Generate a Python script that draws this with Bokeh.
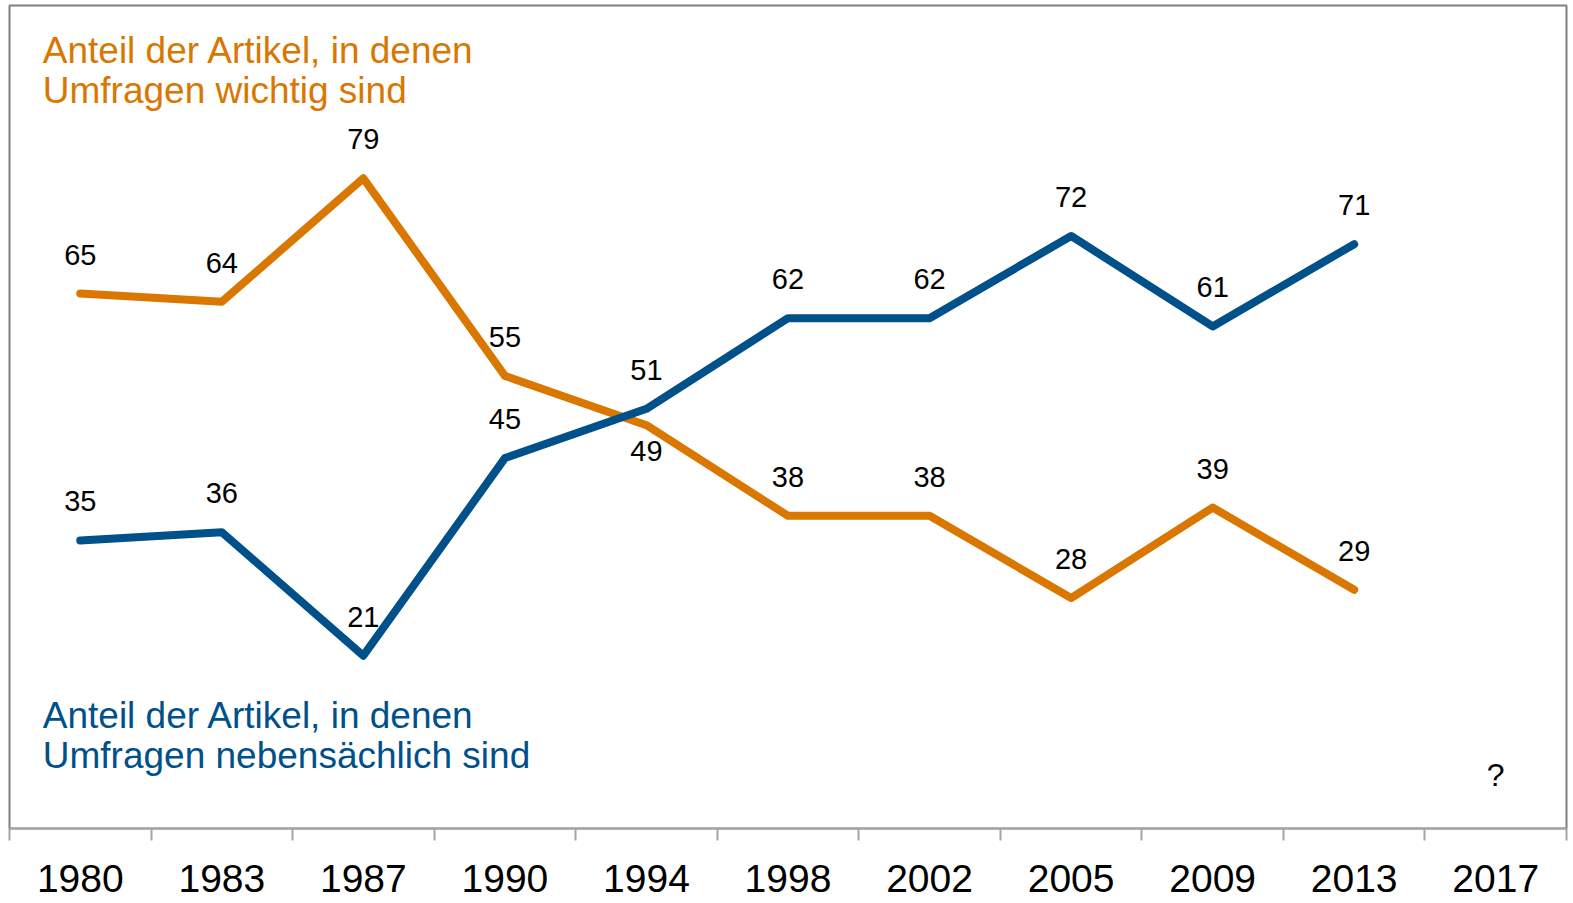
from bokeh.plotting import figure
from bokeh.models import Range1d, FixedTicker, ColumnDataSource
from bokeh.core.properties import value
from bokeh.embed import file_html
from bokeh.resources import INLINE

years = ["1980", "1983", "1987", "1990", "1994", "1998", "2002", "2005", "2009", "2013", "2017"]
important = [65, 64, 79, 55, 49, 38, 38, 28, 39, 29]      # orange
secondary = [35, 36, 21, 45, 51, 62, 62, 72, 61, 71]      # blue
important_label_below = [False, False, False, False, True, False, False, False, False, False]

title_important = ["Anteil der Artikel, in denen", "Umfragen wichtig sind"]
title_secondary = ["Anteil der Artikel, in denen", "Umfragen nebensächlich sind"]

ORANGE = "#D97700"
BLUE = "#00508A"
FONT = value("Liberation Sans")

idx = list(range(len(years)))

p = figure(frame_width=1557, frame_height=823,
           x_range=Range1d(-0.5, len(years) - 0.5), y_range=Range1d(0, 100),
           output_backend="svg", toolbar_location=None, y_axis_location=None,
           min_border_left=9, min_border_right=4, min_border_top=5, min_border_bottom=74)
p.grid.visible = False
p.outline_line_color = "#7f7f7f"
p.outline_line_width = 2
p.background_fill_color = "white"
p.border_fill_color = "white"

ax = p.xaxis[0]
ax.ticker = FixedTicker(ticks=idx, minor_ticks=[i - 0.5 for i in range(len(years) + 1)])
ax.major_label_overrides = {i: y for i, y in enumerate(years)}
ax.major_tick_out = 0
ax.major_tick_in = 0
ax.minor_tick_out = 12
ax.minor_tick_in = 0
ax.minor_tick_line_color = "#a6a6a6"
ax.minor_tick_line_width = 2
ax.axis_line_color = "#a6a6a6"
ax.axis_line_width = 2
ax.major_label_text_font = "Liberation Sans"
ax.major_label_text_font_size = "39px"
ax.major_label_text_color = "black"
ax.major_label_standoff = 24

n = len(important)
p.line(idx[:n], important, line_color=ORANGE, line_width=8, line_cap="round", line_join="round")
p.line(idx[:n], secondary, line_color=BLUE, line_width=8, line_cap="round", line_join="round")

# data labels
above_o = [i for i in range(n) if not important_label_below[i]]
below_o = [i for i in range(n) if important_label_below[i]]
src_oa = ColumnDataSource(dict(x=[idx[i] for i in above_o], y=[important[i] for i in above_o],
                               t=[str(important[i]) for i in above_o]))
src_ob = ColumnDataSource(dict(x=[idx[i] for i in below_o], y=[important[i] for i in below_o],
                               t=[str(important[i]) for i in below_o]))
src_b = ColumnDataSource(dict(x=idx[:n], y=secondary, t=[str(v) for v in secondary]))

for src, off in [(src_oa, -39), (src_ob, 26), (src_b, -39)]:
    p.text(x="x", y="y", text="t", source=src, text_font=FONT, text_font_size="29px",
           text_color="black", text_align="center", text_baseline="middle", y_offset=off)

# series titles
p.text(x=[-0.265, -0.265], y=[94.59, 89.73], text=title_important, text_font=FONT,
       text_font_size="37px", text_color=ORANGE, text_align="left", text_baseline="middle")
p.text(x=[-0.265, -0.265], y=[13.73, 8.93], text=title_secondary, text_font=FONT,
       text_font_size="37px", text_color=BLUE, text_align="left", text_baseline="middle")

p.text(x=[idx[-1]], y=[6.47], text=["?"], text_font=FONT, text_font_size="32px",
       text_color="black", text_align="center", text_baseline="middle")

open("out.html", "w").write(file_html(p, INLINE))
